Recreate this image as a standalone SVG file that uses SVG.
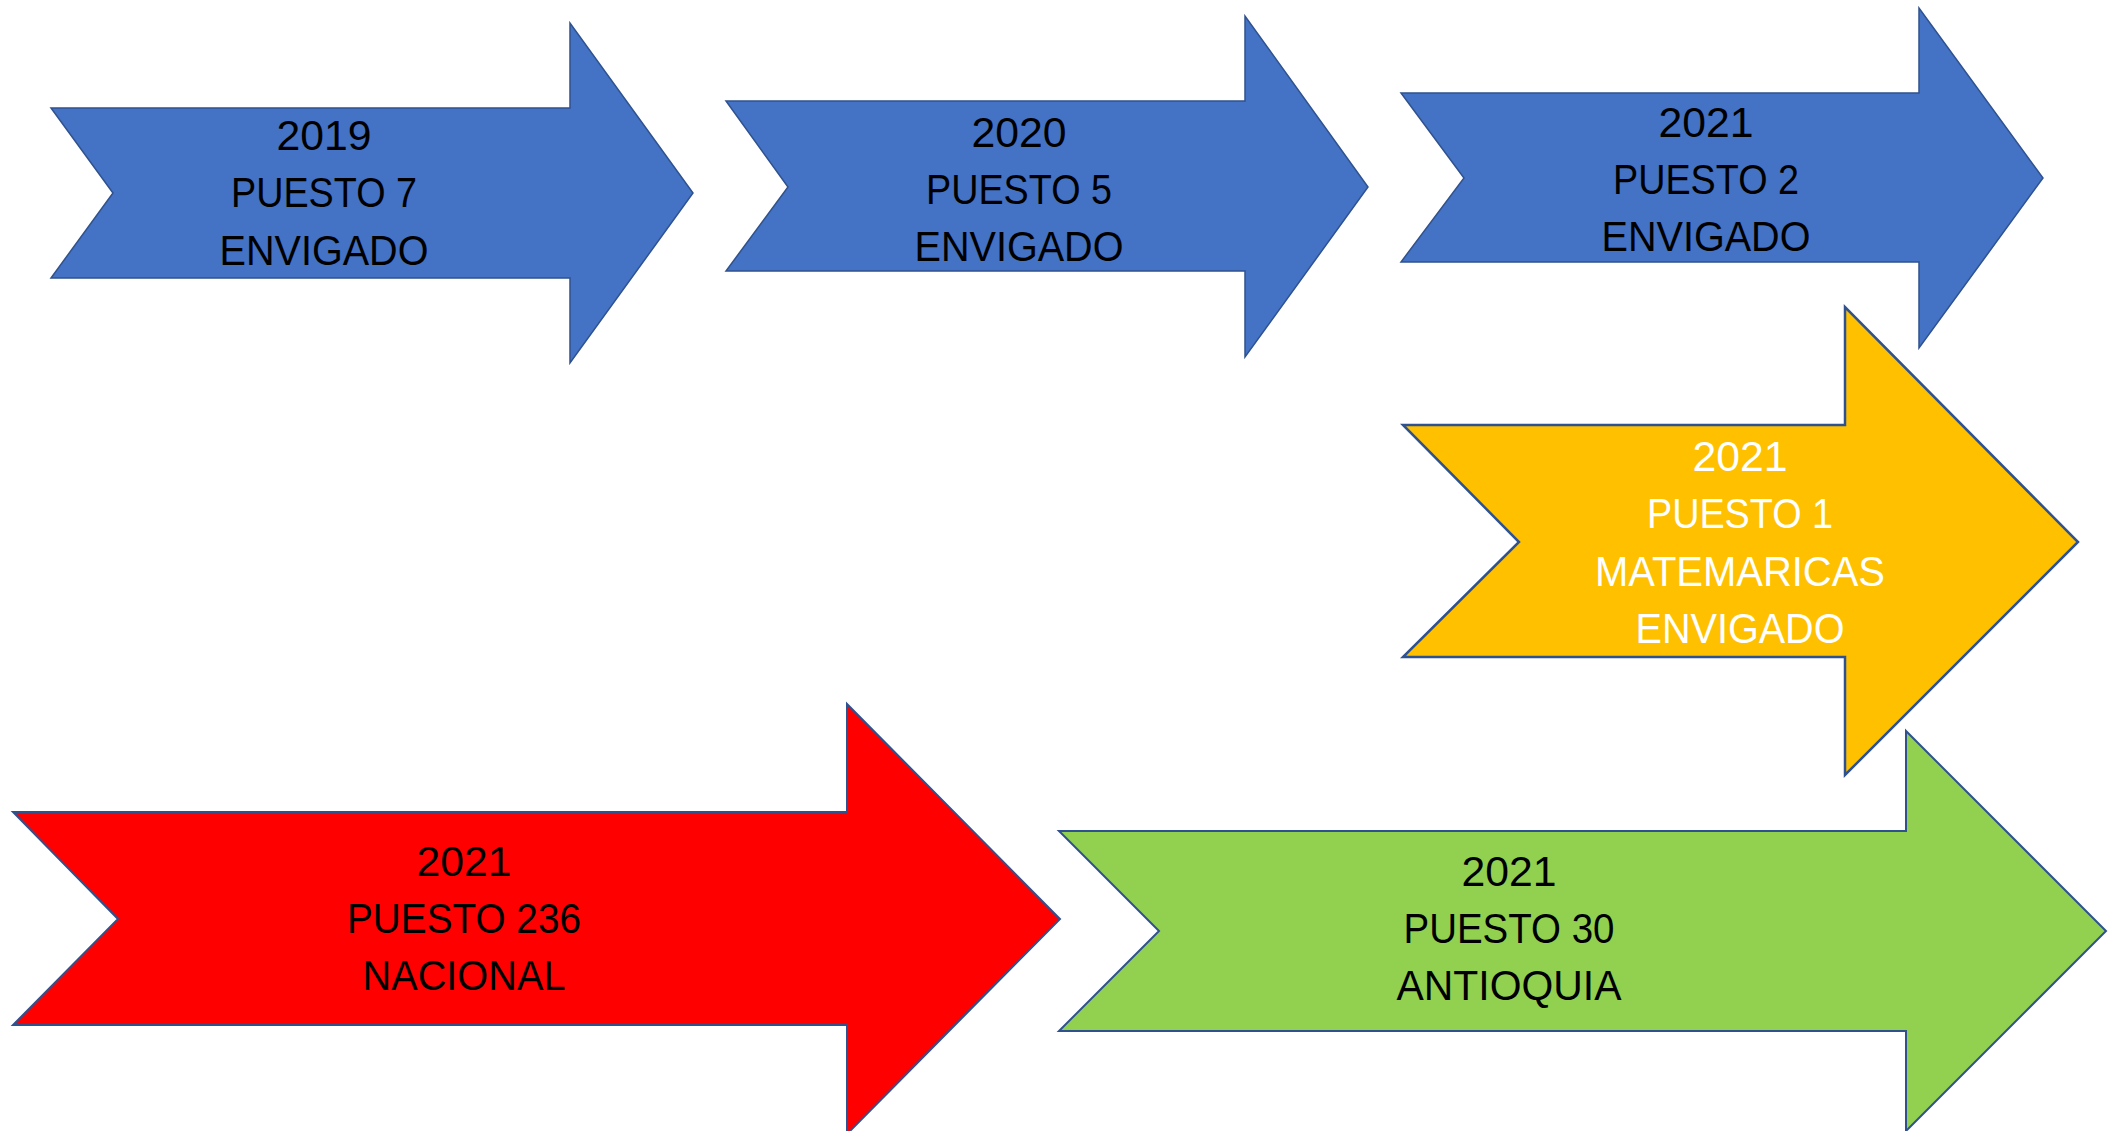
<svg xmlns="http://www.w3.org/2000/svg" width="2108" height="1131" viewBox="0 0 2108 1131">
<style>
.arrow{stroke:#2F528F;stroke-width:2;stroke-linejoin:miter}
.blue{fill:#4472C4;stroke-width:1.5}
.yellow{fill:#FFC000;stroke-width:2.5}
.red{fill:#FF0000}
.green{fill:#92D050}
.lbl{font-family:"Liberation Sans",Arial,sans-serif;font-size:42px;text-anchor:middle;fill:#000000}
.white{fill:#FFFFFF}
</style>
<rect width="2108" height="1131" fill="#FFFFFF"/>
<g id="connectors"></g>
<g id="node-2019">
<polygon class="arrow blue" points="51,108 570,108 570,23 693,193 570,363 570,278 51,278 113,193"/>
<text class="lbl" x="324" y="150" textLength="95" lengthAdjust="spacingAndGlyphs">2019</text>
<text class="lbl" x="324" y="207" textLength="186" lengthAdjust="spacingAndGlyphs">PUESTO 7</text>
<text class="lbl" x="324" y="265" textLength="209" lengthAdjust="spacingAndGlyphs">ENVIGADO</text>
</g>
<g id="node-2020">
<polygon class="arrow blue" points="726,101 1245,101 1245,16 1368,187 1245,357 1245,271 726,271 788,187"/>
<text class="lbl" x="1019" y="147" textLength="95" lengthAdjust="spacingAndGlyphs">2020</text>
<text class="lbl" x="1019" y="204" textLength="186" lengthAdjust="spacingAndGlyphs">PUESTO 5</text>
<text class="lbl" x="1019" y="261" textLength="209" lengthAdjust="spacingAndGlyphs">ENVIGADO</text>
</g>
<g id="node-2021-envigado">
<polygon class="arrow blue" points="1401,93 1919,93 1919,8 2043,178 1919,348 1919,262 1401,262 1464,178"/>
<text class="lbl" x="1706" y="137" textLength="95" lengthAdjust="spacingAndGlyphs">2021</text>
<text class="lbl" x="1706" y="194" textLength="186" lengthAdjust="spacingAndGlyphs">PUESTO 2</text>
<text class="lbl" x="1706" y="251" textLength="209" lengthAdjust="spacingAndGlyphs">ENVIGADO</text>
</g>
<g id="node-2021-matematicas">
<polygon class="arrow yellow" points="1403,425 1845,425 1845,307 2078,542 1845,775 1845,657 1403,657 1519,542"/>
<text class="lbl white" x="1740" y="471" textLength="95" lengthAdjust="spacingAndGlyphs">2021</text>
<text class="lbl white" x="1740" y="528" textLength="186" lengthAdjust="spacingAndGlyphs">PUESTO 1</text>
<text class="lbl white" x="1740" y="586" textLength="290" lengthAdjust="spacingAndGlyphs">MATEMARICAS</text>
<text class="lbl white" x="1740" y="643" textLength="209" lengthAdjust="spacingAndGlyphs">ENVIGADO</text>
</g>
<g id="node-2021-nacional">
<polygon class="arrow red" points="13,812 847,812 847,704 1060,919 847,1134 847,1025 13,1025 118,919"/>
<text class="lbl" x="464" y="876" textLength="95" lengthAdjust="spacingAndGlyphs">2021</text>
<text class="lbl" x="464" y="933" textLength="234" lengthAdjust="spacingAndGlyphs">PUESTO 236</text>
<text class="lbl" x="464" y="990" textLength="203" lengthAdjust="spacingAndGlyphs">NACIONAL</text>
</g>
<g id="node-2021-antioquia">
<polygon class="arrow green" points="1059,831 1906,831 1906,731 2106,931 1906,1131 1906,1031 1059,1031 1159,931"/>
<text class="lbl" x="1509" y="886" textLength="95" lengthAdjust="spacingAndGlyphs">2021</text>
<text class="lbl" x="1509" y="943" textLength="211" lengthAdjust="spacingAndGlyphs">PUESTO 30</text>
<text class="lbl" x="1509" y="1000" textLength="225" lengthAdjust="spacingAndGlyphs">ANTIOQUIA</text>
</g>
</svg>
